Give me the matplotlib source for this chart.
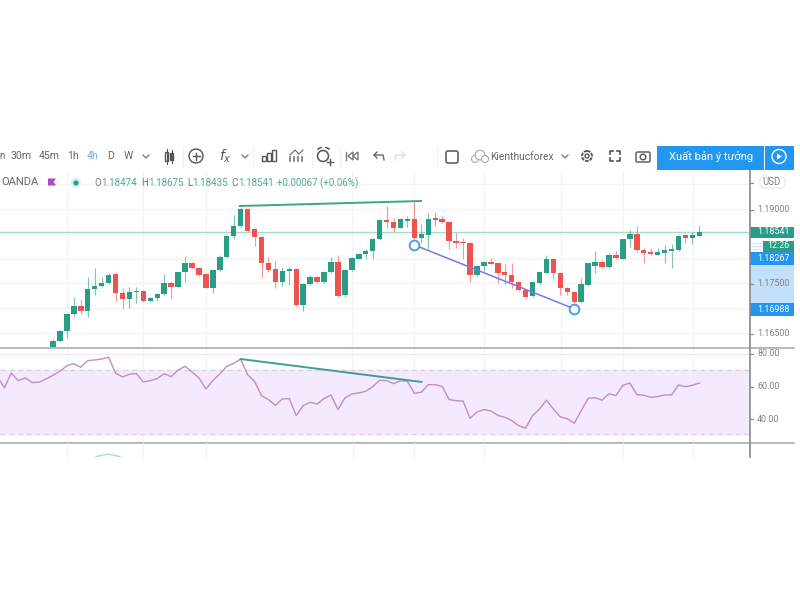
import matplotlib
matplotlib.use("Agg")
import matplotlib.pyplot as plt
from matplotlib.patches import Rectangle, FancyBboxPatch, Circle, Polygon

plt.rcParams["font.family"] = ["Roboto", "DejaVu Sans"]

# Candles
opens = [1.16211, 1.16339, 1.16534, 1.16876, 1.17045, 1.16944, 1.17387, 1.17448, 1.17501, 1.17683,
         1.17300, 1.17192, 1.17333, 1.17354, 1.17145, 1.17199, 1.17280, 1.17515, 1.17428, 1.17723,
         1.17918, 1.17804, 1.17683, 1.17414, 1.17763, 1.18026, 1.18462, 1.18657, 1.18993, 1.18590,
         1.18442, 1.17918, 1.17784, 1.17522, 1.17757, 1.17784, 1.17058, 1.17481, 1.17629, 1.17528,
         1.17730, 1.17931, 1.17259, 1.17763, 1.17999, 1.18086, 1.18160, 1.18395, 1.18778, 1.18738,
         1.18624, 1.18758, 1.18792, 1.18422, 1.18476, 1.18812, 1.18792, 1.18745, 1.18362, 1.18341,
         1.18315, 1.17676, 1.17851, 1.17931, 1.17905, 1.17730, 1.17669, 1.17535, 1.17374, 1.17239,
         1.17508, 1.17716, 1.17985, 1.17710, 1.17407, 1.17333, 1.17132, 1.17468, 1.17851, 1.17925,
         1.17824, 1.18073, 1.17999, 1.18388, 1.18496, 1.18180, 1.18133, 1.18079, 1.18106, 1.18160,
         1.18167, 1.18469, 1.18422, 1.18462]
highs = [1.16372, 1.16561, 1.16910, 1.17233, 1.17179, 1.17636, 1.17804, 1.17636, 1.17716, 1.17716,
         1.17401, 1.17434, 1.17434, 1.17367, 1.17233, 1.17313, 1.17690, 1.17555, 1.17737, 1.18052,
         1.17938, 1.17837, 1.17703, 1.17784, 1.18073, 1.18476, 1.18879, 1.19047, 1.19027, 1.18610,
         1.18456, 1.18026, 1.17958, 1.17837, 1.17837, 1.17804, 1.17515, 1.17669, 1.17649, 1.17757,
         1.18026, 1.18073, 1.17784, 1.18039, 1.18120, 1.18200, 1.18409, 1.18792, 1.19060, 1.18812,
         1.18812, 1.18859, 1.19148, 1.18698, 1.18913, 1.18933, 1.18859, 1.18758, 1.18509, 1.18422,
         1.18328, 1.17871, 1.17945, 1.18019, 1.17918, 1.17905, 1.17918, 1.17555, 1.17387, 1.17535,
         1.17743, 1.18073, 1.17999, 1.17723, 1.17434, 1.17354, 1.17602, 1.17918, 1.18160, 1.17972,
         1.18106, 1.18160, 1.18402, 1.18577, 1.18657, 1.18207, 1.18207, 1.18207, 1.18274, 1.18294,
         1.18476, 1.18496, 1.18543, 1.18677]
lows = [1.16191, 1.16325, 1.16426, 1.16829, 1.16883, 1.16816, 1.17266, 1.17434, 1.17488, 1.17152,
        1.16977, 1.16998, 1.17098, 1.17132, 1.17132, 1.17152, 1.17266, 1.17179, 1.17414, 1.17535,
        1.17784, 1.17656, 1.17401, 1.17313, 1.17750, 1.18012, 1.18395, 1.18630, 1.18543, 1.18254,
        1.17616, 1.17737, 1.17401, 1.17454, 1.17468, 1.17045, 1.16950, 1.17468, 1.17515, 1.17515,
        1.17716, 1.17219, 1.17233, 1.17750, 1.17985, 1.17985, 1.17985, 1.18375, 1.18624, 1.18543,
        1.18610, 1.18630, 1.18388, 1.18308, 1.18187, 1.18657, 1.18711, 1.18194, 1.18207, 1.17985,
        1.17535, 1.17656, 1.17757, 1.17884, 1.17515, 1.17488, 1.17401, 1.17347, 1.17212, 1.17226,
        1.17488, 1.17703, 1.17582, 1.17266, 1.17266, 1.17112, 1.17112, 1.17454, 1.17703, 1.17817,
        1.17810, 1.17992, 1.17985, 1.18241, 1.18140, 1.17905, 1.18073, 1.18066, 1.17905, 1.17804,
        1.18153, 1.18308, 1.18294, 1.18456]
closes = [1.16345, 1.16547, 1.16883, 1.17045, 1.16944, 1.17387, 1.17454, 1.17515, 1.17669, 1.17300,
          1.17192, 1.17333, 1.17354, 1.17145, 1.17199, 1.17286, 1.17501, 1.17428, 1.17723, 1.17918,
          1.17804, 1.17676, 1.17414, 1.17770, 1.18039, 1.18462, 1.18657, 1.18993, 1.18563, 1.18435,
          1.17905, 1.17777, 1.17522, 1.17757, 1.17784, 1.17058, 1.17488, 1.17636, 1.17528, 1.17737,
          1.17938, 1.17253, 1.17770, 1.18019, 1.18093, 1.18160, 1.18395, 1.18778, 1.18731, 1.18624,
          1.18792, 1.18792, 1.18415, 1.18489, 1.18805, 1.18771, 1.18745, 1.18348, 1.18308, 1.18315,
          1.17669, 1.17858, 1.17931, 1.17898, 1.17716, 1.17663, 1.17528, 1.17360, 1.17233, 1.17522,
          1.17730, 1.17985, 1.17703, 1.17407, 1.17320, 1.17132, 1.17488, 1.17905, 1.17925, 1.17837,
          1.18073, 1.18005, 1.18388, 1.18489, 1.18167, 1.18113, 1.18086, 1.18133, 1.18173, 1.18187,
          1.18456, 1.18415, 1.18482, 1.18536]

# RSI starts 8 bars before the first visible candle
rsi = [66.2, 58.9, 68.3, 63.5, 65.2, 62.3, 62.5, 64.6, 66.9, 69.4, 72.9, 74.2, 71.9, 76.1, 76.5, 77.1,
       78.2, 68.3, 65.8, 67.5, 67.9, 62.7, 63.5, 64.8, 67.9, 66.0, 70.2, 72.5, 69.0, 65.2, 58.3, 63.5,
       67.7, 72.5, 74.4, 77.1, 67.3, 63.1, 54.1, 51.6, 48.0, 52.0, 52.2, 41.5, 47.8, 49.9, 48.8, 52.2,
       54.5, 45.3, 52.6, 55.1, 55.8, 56.8, 59.7, 63.7, 63.5, 61.6, 63.5, 63.1, 55.5, 56.2, 61.0, 61.0,
       59.9, 51.6, 50.9, 50.7, 39.8, 43.8, 45.3, 44.5, 41.7, 40.5, 38.4, 35.2, 33.6, 41.5, 45.7, 51.2,
       45.7, 40.7, 39.6, 36.7, 44.7, 52.4, 52.8, 51.2, 55.3, 54.1, 60.6, 62.0, 54.7, 54.3, 53.0, 53.5,
       54.5, 54.5, 60.8, 59.7, 60.6, 62.0]
rsi_start = -8

# Drawn trend lines (bar index, value)
price_peak_x = [26.9, 52.95]
price_peak_y = [1.19060, 1.19161]
price_low_x = [52.0, 75.0]
price_low_y = [1.18274, 1.16988]
rsi_trend_x = [27, 53]
rsi_trend_y = [77.1, 62.7]

last_price = 1.18541
grid_bars = [2.0, 12.95, 22.0, 43.0, 52.0, 62.0, 73.1, 82.0, 92.1]
price_grid = [1.195, 1.19, 1.185, 1.18, 1.175, 1.17, 1.165]
rsi_grid = [80, 60, 40]

up = "#2a9d87"
down = "#ef5350"
grey = "#7d8087"

fig = plt.figure(figsize=(8, 6), dpi=100, facecolor="white")
W, H = 800, 600


def panel(left, top, right, bottom):
    return fig.add_axes([left / W, 1 - bottom / H, (right - left) / W, (bottom - top) / H])


xlim = (-53 / 6.95, (750 - 53) / 6.95)

# Price pane
ax = panel(0, 170, 750, 347)
ax.set_xlim(xlim)
ax.set_ylim(1.16218, 1.19786)
ax.axis("off")
for b in grid_bars:
    ax.axvline(b, color="#f2f3f5", lw=0.9, zorder=0)
for p in price_grid:
    ax.axhline(p, color="#f2f3f5", lw=0.9, zorder=0)
ax.axhline(last_price, color="#a5d9cd", lw=1.0, zorder=1)
for i in range(len(opens)):
    col = up if closes[i] >= opens[i] else down
    ax.vlines(i, lows[i], highs[i], color=col, lw=0.8, alpha=0.6, zorder=2)
    ax.bar(i, abs(closes[i] - opens[i]), bottom=min(opens[i], closes[i]), width=0.78, color=col, zorder=3)
ax.plot(price_peak_x, price_peak_y, color="#3fa58a", lw=1.4, zorder=4)
ax.plot(price_low_x, price_low_y, color="#7b78e8", lw=1.1, zorder=4)
ax.plot(price_low_x, price_low_y, "o", ms=7, mfc="white", mec="#3f9bf0", mew=1.3, ls="none", zorder=5)

# RSI pane
ax2 = panel(0, 349, 750, 443)
ax2.set_xlim(xlim)
ax2.set_ylim(24.3, 83.4)
ax2.axis("off")
for b in grid_bars:
    ax2.axvline(b, color="#f2f3f5", lw=0.9, zorder=0)
for r in rsi_grid:
    ax2.axhline(r, color="#efe6fa", lw=0.9, zorder=0)
ax2.axhspan(30, 70, color="#f5e9fd", zorder=1)
ax2.axhline(70, color="#d9cfe3", lw=0.9, ls=(0, (4, 3)), zorder=2)
ax2.axhline(30, color="#d9cfe3", lw=0.9, ls=(0, (4, 3)), zorder=2)
ax2.plot(range(rsi_start, rsi_start + len(rsi)), rsi, color="#bb8fcc", lw=1.0, zorder=3)
ax2.plot(rsi_trend_x, rsi_trend_y, color="#3f9f94", lw=1.4, zorder=4)

# Everything around the panes, in pixels
ui = fig.add_axes([0, 0, 1, 1], zorder=10)
ui.set_xlim(0, W)
ui.set_ylim(H, 0)
ui.axis("off")
ui.patch.set_alpha(0)

# pane borders
ui.plot([0, 794], [347.5, 347.5], color="#a9acb2", lw=1.2)
ui.plot([0, 794], [443, 443], color="#a9acb2", lw=1.2)
ui.plot([750, 750], [170, 457], color="#85888e", lw=1.2)
ui.plot([96, 108, 120], [456.5, 454, 456.5], color="#a8d8ea", lw=1)
for sx in [67, 143, 206, 353, 414, 484, 623, 693]:
    ui.plot([sx, sx], [443, 457], color="#f2f3f5", lw=0.9)

# toolbar
for label, tx, col in [("30m", 21, "#666"), ("45m", 49, "#666"), ("1h", 73, "#666"), ("4h", 93, "#6aaef0"),
                       ("D", 111, "#666"), ("W", 128, "#666")]:
    ui.text(tx, 156, label, ha="center", va="center", fontsize=7.6, color=col)
ui.text(1.5, 156, "n", ha="center", va="center", fontsize=7, color="#666")
for cx in [146, 245, 565]:
    ui.plot([cx - 3, cx, cx + 3], [155, 158, 155], color="#777", lw=0.9)
for sx in [183, 253, 312, 340, 437]:
    ui.plot([sx, sx], [146, 167], color="#f0f0f0", lw=0.8)

# candle icon
ui.add_patch(Rectangle((165, 152), 3, 9, fc="white", ec="#555", lw=1))
ui.add_patch(Rectangle((170, 153), 3, 7, fc="#555", ec="#555", lw=1))
ui.plot([166.5, 166.5], [149, 164], color="#555", lw=0.8)
ui.plot([171.5, 171.5], [150, 163], color="#555", lw=0.8)
# plus in circle
ui.add_patch(Circle((196, 156), 7, fc="white", ec="#555", lw=1))
ui.plot([192.5, 199.5], [156, 156], color="#555", lw=1)
ui.plot([196, 196], [152.5, 159.5], color="#555", lw=1)
ui.text(225, 156, "$f_x$", ha="center", va="center", fontsize=10, color="#555")
# bars icon
for bx, bh in [(262, 5), (267, 8), (272, 11)]:
    ui.add_patch(Rectangle((bx, 161 - bh), 3.5, bh, fc="white", ec="#555", lw=1))
# indicator templates icon
ui.plot([290, 295, 299, 303], [155, 150, 154, 150], color="#666", lw=0.8)
for bx in [290, 294, 298, 302]:
    ui.plot([bx, bx], [157, 161], color="#777", lw=1.2)
# alarm
ui.add_patch(Circle((323, 156), 5.5, fc="white", ec="#555", lw=1.1))
ui.plot([318, 321], [149, 147.5], color="#555", lw=1.1)
ui.plot([326, 329], [147.5, 149], color="#555", lw=1.1)
ui.plot([327, 333], [162, 162], color="#555", lw=1)
ui.plot([330, 330], [159, 165], color="#555", lw=1)
# replay
ui.add_patch(Polygon([[353, 152], [353, 160], [348, 156]], fc="white", ec="#777", lw=1))
ui.add_patch(Polygon([[358, 152], [358, 160], [353, 156]], fc="white", ec="#777", lw=1))
ui.plot([345.5, 345.5], [152, 160], color="#777", lw=1)
# undo / redo
ui.plot([374, 383, 384], [155, 155, 160], color="#666", lw=1)
ui.plot([377, 374, 377], [152, 155, 158], color="#666", lw=1)
ui.plot([405, 396, 395], [155, 155, 160], color="#ddd", lw=1)
ui.plot([402, 405, 402], [152, 155, 158], color="#ddd", lw=1)
# square
ui.add_patch(FancyBboxPatch((446, 151), 12, 12, boxstyle="round,pad=0,rounding_size=2", fc="white", ec="#555", lw=1.1))
# cloud
for ccx, ccy, cr in [(475, 159, 3.5), (480, 155, 4.8), (485, 159, 3.5)]:
    ui.add_patch(Circle((ccx, ccy), cr, fc="white", ec="#aaa", lw=0.8))
ui.text(522, 156.5, "Kienthucforex", ha="center", va="center", fontsize=7.4, color="#666")
# gear
ui.add_patch(Circle((587, 156), 5, fc="white", ec="#555", lw=1.3, ls=(0, (2, 0.6))))
ui.add_patch(Circle((587, 156), 2, fc="white", ec="#555", lw=1))
# full screen
for fx, fy, dx, dy in [(610, 151, 1, 1), (620, 151, -1, 1), (610, 161, 1, -1), (620, 161, -1, -1)]:
    ui.plot([fx + 3 * dx, fx, fx], [fy, fy, fy + 3 * dy], color="#555", lw=1.2)
# camera
ui.add_patch(FancyBboxPatch((636, 152), 14, 10, boxstyle="round,pad=0,rounding_size=1.5", fc="white", ec="#555", lw=1))
ui.add_patch(Circle((643, 157), 2.8, fc="white", ec="#555", lw=1))
# publish buttons
ui.add_patch(Rectangle((657, 146), 107, 23.5, fc="#2196f3", ec="none"))
ui.add_patch(Rectangle((765, 146), 28.5, 23.5, fc="#2196f3", ec="none"))
ui.text(711, 157, "Xuất bản ý tưởng", ha="center", va="center", fontsize=8, color="white")
ui.add_patch(Circle((779, 156.5), 7, fc="none", ec="white", lw=1))
ui.add_patch(Polygon([[777, 153.5], [777, 159.5], [782, 156.5]], fc="white", ec="none"))

# legend row
ui.text(1, 182, "OANDA", ha="left", va="center", fontsize=8, color="#666")
ui.add_patch(Polygon([[48, 178.5], [56, 178.5], [53.5, 182], [56, 185.5], [48, 185.5]], fc="#a64dc0", ec="none"))
ui.add_patch(Circle((76, 183), 5, fc="#dcf2ec", ec="none"))
ui.add_patch(Circle((76, 183), 2.6, fc=up, ec="none"))
teal = "#4fa893"
ui.text(94, 183, "O", ha="left", va="center", fontsize=7, color="#777")
ui.text(101, 183, "1.18474", ha="left", va="center", fontsize=7, color=teal)
ui.text(141, 183, "H", ha="left", va="center", fontsize=7, color="#777")
ui.text(148, 183, "1.18675", ha="left", va="center", fontsize=7, color=teal)
ui.text(187, 183, "L", ha="left", va="center", fontsize=7, color="#777")
ui.text(192, 183, "1.18435", ha="left", va="center", fontsize=7, color=teal)
ui.text(231, 183, "C", ha="left", va="center", fontsize=7, color="#777")
ui.text(238, 183, "1.18541", ha="left", va="center", fontsize=7, color=teal)
ui.text(277, 183, "+0.00067 (+0.06%)", ha="left", va="center", fontsize=7, color=teal)

# right scale
ui.add_patch(Rectangle((750, 265), 43.5, 38, fc="#c3e0fa", ec="none"))
ui.add_patch(Rectangle((750, 226.5), 44, 11, fc=up, ec="none"))
ui.add_patch(Rectangle((763, 240.5), 31, 11.5, fc=up, ec="none"))
ui.add_patch(Rectangle((750, 252), 44, 13, fc="#2196f3", ec="none"))
ui.add_patch(Rectangle((750, 303), 44, 13, fc="#2196f3", ec="none"))
for my in [243, 246, 249]:
    ui.plot([752, 762], [my, my], color="#d5e4f5", lw=1)
ui.add_patch(FancyBboxPatch((760, 177), 25, 11, boxstyle="round,pad=0,rounding_size=4", fc="white", ec="#e6e6e6", lw=0.8))
ui.text(772, 182, "USD", ha="center", va="center", fontsize=7, color=grey)
for label, ly, col in [("1.19000", 209.5, grey), ("1.18541", 232, "white"), ("1.18267", 258.5, "white"),
                       ("1.17500", 284, grey), ("1.16988", 309.5, "white"), ("1.16500", 333.5, grey)]:
    ui.text(757, ly, label, ha="left", va="center", fontsize=6.4, color=col)
ui.text(778, 246, "12:26", ha="center", va="center", fontsize=6.4, color="white")
for label, ly in [("80.00", 353.5), ("60.00", 386.7), ("40.00", 419)]:
    ui.text(757, ly, label, ha="left", va="center", fontsize=6.4, color=grey)
for ty in [209.5, 284, 333.5, 353.5, 386.7, 419, 183]:
    ui.plot([750, 753], [ty, ty], color="#888", lw=0.8)

fig.savefig("out.png", dpi=100, facecolor="white")
